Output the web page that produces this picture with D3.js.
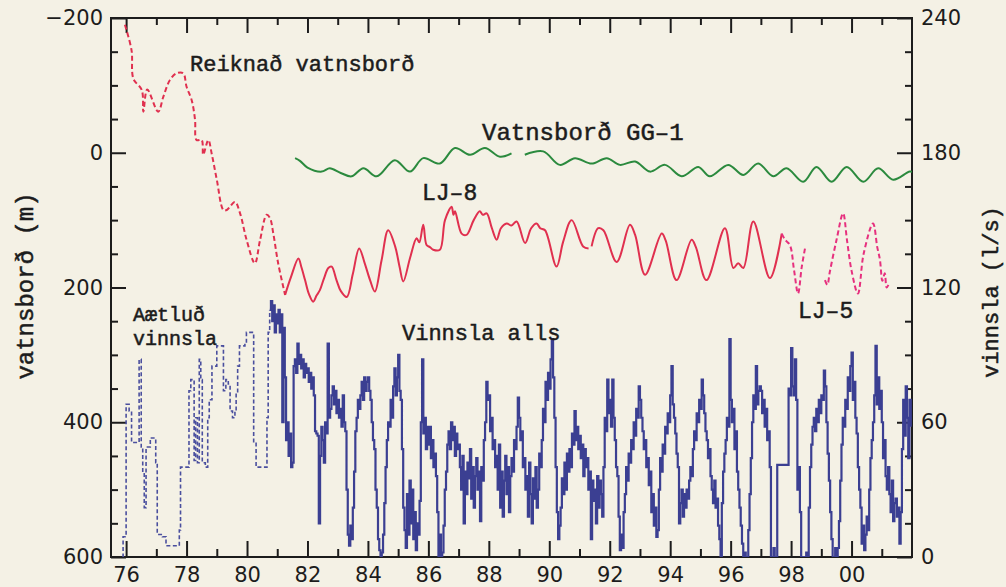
<!DOCTYPE html>
<html>
<head>
<meta charset="utf-8">
<script src="https://cdn.jsdelivr.net/npm/d3@7"></script>
<style>
body { margin: 0; background: #f4f1e5; }
svg { display: block; }
</style>
</head>
<body>
<script>
const width = 1006,
    height = 587;

// tick values
const yearMajor = [1976, 1978, 1980, 1982, 1984, 1986, 1988, 1990, 1992, 1994, 1996, 1998, 2000];
const yearMinor = [1977, 1979, 1981, 1983, 1985, 1987, 1989, 1991, 1993, 1995, 1997, 1999, 2001];
const levelTicks = [-200, 0, 200, 400, 600];
const flowTicks = [0, 60, 120, 180, 240];

// Reiknað vatnsborð (computed level, m)
const reiknad = [[1975.96, -190], [1976.18, -152], [1976.24, -110], [1976.52, -93], [1976.57, -61],
    [1976.7, -94], [1977.06, -61], [1977.23, -83], [1977.45, -108], [1977.67, -118], [1977.89, -118],
    [1978.0, -98], [1978.17, -78], [1978.28, -49], [1978.33, -19], [1978.5, -19], [1978.55, 3],
    [1978.72, -19], [1978.83, 1], [1979.0, 40], [1979.22, 85], [1979.33, 85], [1979.6, 73],
    [1979.77, 90], [1979.99, 130], [1980.26, 164], [1980.43, 130], [1980.65, 92], [1980.76, 97],
    [1980.87, 120], [1981.03, 164], [1981.26, 211]];

// LJ-8 level (m)
const lj8 = [[1981.26, 211], [1981.45, 185], [1981.7, 157], [1981.8, 170], [1981.92, 189], [1982.05, 210],
    [1982.19, 221], [1982.3, 212], [1982.41, 204], [1982.55, 186], [1982.69, 171], [1982.8, 169],
    [1982.96, 189], [1983.1, 205], [1983.3, 214], [1983.5, 180], [1983.71, 142], [1983.9, 165],
    [1984.07, 189], [1984.23, 206], [1984.45, 160], [1984.67, 115], [1984.9, 139], [1985.05, 170],
    [1985.17, 191], [1985.4, 155], [1985.61, 127], [1985.7, 133], [1985.83, 107], [1985.94, 137],
    [1986.05, 140], [1986.16, 144], [1986.38, 144], [1986.55, 100], [1986.77, 80], [1986.83, 92],
    [1986.88, 87], [1987.1, 120], [1987.26, 122], [1987.5, 100], [1987.7, 87], [1987.8, 92],
    [1987.93, 90], [1988.1, 112], [1988.26, 129], [1988.4, 112], [1988.59, 105], [1988.75, 108],
    [1988.92, 102], [1989.2, 134], [1989.4, 112], [1989.58, 105], [1989.7, 112], [1989.86, 115],
    [1990.24, 169], [1990.46, 132], [1990.74, 100], [1991.12, 139], [1991.3, 142], [1991.35, null],
    [1991.4, 139], [1991.62, 112], [1991.79, 115], [1992.23, 162], [1992.67, 107], [1992.84, 122],
    [1993.17, 181], [1993.72, 120], [1993.85, 130], [1994.21, 189], [1994.71, 129], [1994.85, 140],
    [1995.2, 189], [1995.81, 112], [1996.09, 171], [1996.25, 164], [1996.42, 171], [1996.75, 102],
    [1997.3, 186], [1997.69, 120]];

// LJ-5 level (m)
const lj5 = [[1997.69, 120], [1997.8, 129], [1997.96, 137], [1998.1, 175], [1998.23, 209], [1998.35, 170],
    [1998.46, 142], [1998.8, null], [1999.12, 189], [1999.2, 196], [1999.28, 177], [1999.5, 130],
    [1999.72, 90], [1999.85, 130], [2000.0, 175], [2000.21, 209], [2000.4, 150], [2000.71, 105],
    [2000.85, 140], [2000.94, 159], [2001.02, 190], [2001.1, 179], [2001.16, 200], [2001.22, 196]];

// Vatnsborð GG-1 (m)
const gg1 = [[1981.59, 8], [1981.75, 12], [1982.0, 22], [1982.47, 28], [1982.74, 23], [1983.1, 30],
    [1983.46, 35], [1983.85, 23], [1984.29, 35], [1984.89, 11], [1985.39, 28], [1985.83, 8],
    [1986.38, 16], [1986.88, -7], [1987.38, 3], [1987.87, -7], [1988.37, 6], [1988.75, 1],
    [1988.95, null], [1989.19, 3], [1989.8, -2], [1990.35, 18], [1990.85, 8], [1991.4, 16],
    [1991.9, 8], [1992.34, 18], [1992.84, 13], [1993.33, 28], [1993.83, 18], [1994.38, 35],
    [1994.93, 21], [1995.31, 35], [1995.92, 18], [1996.42, 33], [1996.91, 16], [1997.41, 35],
    [1997.85, 23], [1998.4, 43], [1998.84, 21], [1999.34, 43], [1999.84, 21], [2000.39, 43],
    [2000.88, 23], [2001.38, 40], [2001.93, 28], [2002.1, 30]];

// Áætluð vinnsla (estimated production, l/s), steps
const aetlud = [[1975.88, 0], [1975.9, 9], [1976.0, 68], [1976.1, 65], [1976.18, 51], [1976.43, 88],
    [1976.5, 49], [1976.55, 37], [1976.6, 22], [1976.66, 49], [1976.8, 53], [1976.98, 42],
    [1977.03, 10], [1977.2, 9], [1977.32, 5], [1977.76, 12], [1977.8, 40], [1978.08, 74],
    [1978.14, 79], [1978.25, 43], [1978.3, 62], [1978.36, 42], [1978.42, 88], [1978.47, 79],
    [1978.52, 42], [1978.62, 40], [1978.7, 62], [1978.75, 70], [1978.84, 85], [1979.0, 94],
    [1979.22, 74], [1979.3, 79], [1979.38, 77], [1979.44, 65], [1979.52, 62], [1979.6, 65],
    [1979.64, 73], [1979.69, 85], [1979.75, 94], [1979.93, 95], [1979.98, 100], [1980.22, 51],
    [1980.3, 40], [1980.66, 62], [1980.7, 100], [1980.75, 110]];

// Vinnsla alls (total production, l/s), two values per month from 1980.75
const vinnslaStart = 1980.75;
const vinnslaAlls = [
    110, 114, 105, 112, 100, 108,
    104, 110, 100, 108, 60, 102, 80, 52, 60, 45, 55, 40, 42, 85, 88, 82, 95, 86, 90, 84, 88, 80, 86, 82,
    84, 78, 82, 75, 80, 72, 56, 55, 54, 15, 45, 58, 52, 42, 60, 55, 95, 62, 66, 72, 76, 68, 74, 64,
    70, 62, 66, 58, 72, 60, 56, 30, 10, 5, 14, 8, 22, 38, 56, 62, 70, 66, 72, 78, 70, 80, 74, 78,
    80, 74, 70, 60, 52, 48, 30, 22, 8, 3, 0, 2, 10, 24, 40, 52, 60, 58, 70, 62, 76, 84, 72, 80,
    90, 74, 70, 48, 22, 12, 4, 28, 10, 34, 15, 30, 8, 20, 3, 15, 10, 25, 60, 88, 55, 62, 48, 58,
    50, 58, 44, 52, 40, 46, 36, 20, 0, 10, 0, 2, 14, 30, 38, 50, 56, 48, 60, 52, 58, 45, 55, 48,
    50, 40, 30, 45, 15, 38, 28, 42, 35, 48, 26, 40, 22, 36, 44, 30, 38, 16, 40, 34, 52, 60, 78, 70,
    72, 56, 62, 48, 52, 40, 45, 30, 50, 22, 38, 18, 34, 45, 28, 40, 20, 36, 44, 38, 52, 48, 58, 71,
    62, 52, 56, 40, 44, 30, 36, 18, 42, 28, 15, 35, 26, 40, 22, 30, 46, 40, 52, 66, 60, 78, 70, 82,
    75, 88, 97, 80, 62, 40, 20, 8, 14, 22, 35, 28, 42, 30, 46, 38, 48, 40, 55, 50, 65, 52, 58, 48,
    54, 44, 50, 36, 48, 40, 44, 30, 38, 8, 34, 25, 30, 15, 36, 22, 34, 28, 18, 40, 62, 56, 79, 64,
    70, 58, 79, 62, 52, 40, 36, 18, 3, 10, 4, 20, 28, 40, 34, 46, 42, 52, 48, 60, 54, 66, 62, 76,
    70, 62, 56, 48, 52, 40, 44, 32, 38, 20, 28, 14, 22, 9, 12, 30, 44, 38, 50, 46, 58, 55, 64, 60,
    72, 85, 68, 62, 55, 46, 40, 15, 24, 30, 18, 28, 22, 30, 26, 34, 40, 36, 48, 56, 52, 64, 60, 70,
    66, 79, 72, 64, 56, 52, 44, 48, 36, 30, 24, 34, 22, 26, 14, 8, 0, 24, 38, 46, 52, 62, 58, 97,
    70, 60, 66, 48, 56, 38, 30, 22, 14, 6, 0, 2, 0, 0, 12, 28, 44, 60, 72, 66, 85, 68, 74, 76,
    74, 64, 70, 58, 66, 52, 56, 40, 0, 0, 4, 0, 0, 41, 41, 41, 41, 41, 41, 41, 41, 41, 75, 72,
    93, 76, 72, 88, 70, 30, 40, 20, 0, 0, 0, 0, 2, 0, 22, 40, 50, 58, 62, 56, 66, 60, 70, 64,
    72, 70, 83, 76, 60, 46, 34, 20, 8, 0, 0, 4, 0, 4, 16, 34, 50, 62, 58, 70, 66, 80, 74, 85,
    91, 70, 78, 62, 55, 40, 30, 22, 6, 14, 3, 10, 18, 12, 30, 44, 52, 60, 72, 94, 68, 80, 66, 74,
    60, 44, 52, 36, 30, 40, 28, 20, 34, 16, 24, 26, 18, 22, 6, 20, 48, 70, 54, 76, 62, 44, 70, 58
];

const x = d3.scaleLinear().domain([1975.5, 2002]).range([111, 912]);
const yLevel = d3.scaleLinear().domain([-200, 600]).range([18, 557]);
const yFlow = d3.scaleLinear().domain([0, 240]).range([557, 18]);

const svg = d3.select("body").append("svg")
    .attr("width", width)
    .attr("height", height);

svg.append("rect")
    .attr("width", width)
    .attr("height", height)
    .attr("fill", "#f4f1e5");

svg.append("clipPath")
    .attr("id", "plot")
    .append("rect")
    .attr("x", 111).attr("y", 18)
    .attr("width", 801).attr("height", 539);

const tickStyle = g => {
    g.attr("font-family", "'DejaVu Sans', sans-serif")
        .attr("font-size", 21)
        .attr("color", "#1c1c1c");
    g.select(".domain").remove();
    g.selectAll("line").attr("stroke-width", 2);
};

const yearLabel = d => String(d % 100).padStart(2, "0");

// x axes (bottom labelled, top only ticks)
svg.append("g").attr("transform", "translate(0,557)")
    .call(d3.axisBottom(x).tickValues(yearMajor).tickSize(-16).tickPadding(10).tickFormat(yearLabel))
    .call(tickStyle);
svg.append("g").attr("transform", "translate(0,557)")
    .call(d3.axisBottom(x).tickValues(yearMinor).tickSize(-8).tickFormat(""))
    .call(tickStyle);
svg.append("g").attr("transform", "translate(0,18)")
    .call(d3.axisTop(x).tickValues(yearMajor).tickSize(-15).tickFormat(""))
    .call(tickStyle);
svg.append("g").attr("transform", "translate(0,18)")
    .call(d3.axisTop(x).tickValues(yearMinor).tickSize(-7).tickFormat(""))
    .call(tickStyle);

// left axis
svg.append("g").attr("transform", "translate(111,0)")
    .call(d3.axisLeft(yLevel).tickValues(levelTicks).tickSize(-15).tickPadding(8))
    .call(tickStyle);
svg.append("g").attr("transform", "translate(111,0)")
    .call(d3.axisLeft(yLevel).tickValues(d3.range(-150, 600, 50).filter(v => v % 200 !== 0)).tickSize(-7).tickFormat(""))
    .call(tickStyle);

// right axis
svg.append("g").attr("transform", "translate(912,0)")
    .call(d3.axisRight(yFlow).tickValues(flowTicks).tickSize(-15).tickPadding(9))
    .call(tickStyle);
svg.append("g").attr("transform", "translate(912,0)")
    .call(d3.axisRight(yFlow).tickValues(d3.range(15, 240, 15).filter(v => v % 60 !== 0)).tickSize(-7).tickFormat(""))
    .call(tickStyle);

svg.append("rect")
    .attr("x", 111).attr("y", 18)
    .attr("width", 801).attr("height", 539)
    .attr("fill", "none")
    .attr("stroke", "#1c1c1c")
    .attr("stroke-width", 2);

const levelLine = d3.line()
    .defined(d => d[1] !== null)
    .x(d => x(d[0]))
    .y(d => yLevel(d[1]))
    .curve(d3.curveCatmullRom.alpha(0.5));

const flowLine = d3.line()
    .x(d => x(d[0]))
    .y(d => yFlow(d[1]))
    .curve(d3.curveStepAfter);

const plot = svg.append("g").attr("clip-path", "url(#plot)");

const vinnslaPoints = vinnslaAlls.map((v, i) => [vinnslaStart + i / 24, v]);

plot.append("path")
    .attr("d", flowLine(aetlud))
    .attr("fill", "none")
    .attr("stroke", "#4a4f9e")
    .attr("stroke-width", 1.6)
    .attr("stroke-dasharray", "4,2.5");

plot.append("path")
    .attr("d", flowLine(vinnslaPoints))
    .attr("fill", "none")
    .attr("stroke", "#3b3f92")
    .attr("stroke-width", 2.2);

plot.append("path")
    .attr("d", levelLine(reiknad))
    .attr("fill", "none")
    .attr("stroke", "#e0304f")
    .attr("stroke-width", 2)
    .attr("stroke-dasharray", "5,3");

plot.append("path")
    .attr("d", levelLine(lj8))
    .attr("fill", "none")
    .attr("stroke", "#e0304f")
    .attr("stroke-width", 2);

plot.append("path")
    .attr("d", levelLine(lj5))
    .attr("fill", "none")
    .attr("stroke", "#e6307e")
    .attr("stroke-width", 2)
    .attr("stroke-dasharray", "5,3");

plot.append("path")
    .attr("d", levelLine(gg1))
    .attr("fill", "none")
    .attr("stroke", "#2b8a3e")
    .attr("stroke-width", 2);

// labels
const labels = [
    {text: "Reiknað vatnsborð", x: 190, y: 71, size: 22},
    {text: "Vatnsborð GG–1", x: 482, y: 140, size: 24},
    {text: "LJ–8", x: 422, y: 200, size: 23},
    {text: "LJ–5", x: 798, y: 318, size: 23},
    {text: "Vinnsla alls", x: 402, y: 340, size: 22},
    {text: "Aætluð", x: 133, y: 321, size: 20},
    {text: "vinnsla", x: 133, y: 345, size: 20}
];

svg.append("g")
    .selectAll("text")
    .data(labels)
    .enter().append("text")
    .attr("x", d => d.x)
    .attr("y", d => d.y)
    .attr("font-family", "'Liberation Mono', monospace")
    .attr("font-size", d => d.size)
    .attr("fill", "#1c1c1c")
    .attr("stroke", "#1c1c1c")
    .attr("stroke-width", 0.5)
    .text(d => d.text);

svg.append("text")
    .attr("transform", "translate(33,286) rotate(-90)")
    .attr("text-anchor", "middle")
    .attr("font-family", "'Liberation Mono', monospace")
    .attr("font-size", 24)
    .attr("fill", "#1c1c1c")
    .attr("stroke", "#1c1c1c")
    .attr("stroke-width", 0.5)
    .text("vatnsborð (m)");

svg.append("text")
    .attr("transform", "translate(998,292) rotate(-90)")
    .attr("text-anchor", "middle")
    .attr("font-family", "'Liberation Mono', monospace")
    .attr("font-size", 22)
    .attr("fill", "#1c1c1c")
    .attr("stroke", "#1c1c1c")
    .attr("stroke-width", 0.5)
    .text("vinnsla (l/s)");
</script>
</body>
</html>
